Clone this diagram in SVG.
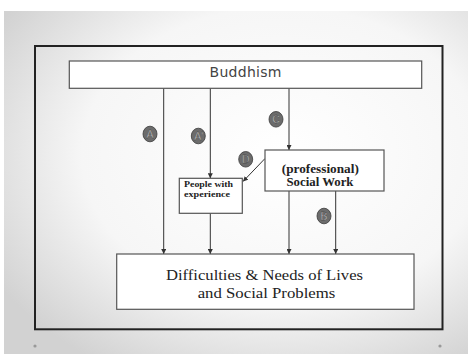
<svg xmlns="http://www.w3.org/2000/svg" width="468" height="354" viewBox="0 0 468 354">
<defs>
<radialGradient id="bg" cx="60%" cy="42%" r="72%">
<stop offset="0" stop-color="#ffffff"/>
<stop offset="0.6" stop-color="#f6f6f6"/>
<stop offset="1" stop-color="#d2d2d2"/>
</radialGradient>
<marker id="arr" viewBox="0 0 6 6" refX="6" refY="3" markerWidth="5" markerHeight="5" orient="auto" markerUnits="userSpaceOnUse">
<path d="M0,0 L6,3 L0,6 z" fill="#333"/>
</marker>
<style>
.box{fill:#fff;stroke:#555;stroke-width:1.2}
.ln{stroke:#333;stroke-width:1;fill:none;marker-end:url(#arr)}
.lbl ellipse{fill:#6c6c6c;stroke:#3a3a3a;stroke-width:0.8}
.lbl text{font-family:"Liberation Sans",Arial,sans-serif;font-size:10.5px;fill:#d8d8d8;stroke:#2a2a2a;stroke-width:0.3;text-anchor:middle}
.serif{font-family:"Liberation Serif","Times New Roman",serif;fill:#222}
</style>
</defs>
<rect width="468" height="354" fill="#ffffff"/>
<rect x="4" y="11" width="464" height="343" fill="url(#bg)"/>
<rect x="35" y="46" width="407.5" height="283.3" fill="none" stroke="#222" stroke-width="2"/>
<circle cx="35" cy="346" r="1.6" fill="#999"/>
<circle cx="440" cy="346" r="1.6" fill="#999"/>

<g id="connectors">
<line class="ln" x1="163.7" y1="88.3" x2="163.7" y2="254"/>
<line class="ln" x1="210.3" y1="88.3" x2="210.3" y2="178.3"/>
<line class="ln" x1="210.3" y1="213.3" x2="210.3" y2="254"/>
<line class="ln" x1="289" y1="88.3" x2="289" y2="150"/>
<line class="ln" x1="265" y1="158.5" x2="243" y2="181.5"/>
<line class="ln" x1="289" y1="191" x2="289" y2="254"/>
<line class="ln" x1="335.7" y1="191" x2="335.7" y2="254"/>
</g>

<g id="buddhism">
<rect class="box" x="69.3" y="61" width="352.4" height="27.3"/>
<text x="245.5" y="76.5" font-family="'DejaVu Sans',sans-serif" font-size="14" fill="#444" text-anchor="middle" textLength="72">Buddhism</text>
</g>

<g id="social-work">
<rect class="box" x="265" y="150" width="119" height="41"/>
<text class="serif" x="320.3" y="172.5" font-size="11.5" font-weight="bold" text-anchor="middle" textLength="77" lengthAdjust="spacingAndGlyphs">(professional)</text>
<text class="serif" x="320" y="186" font-size="11.5" font-weight="bold" text-anchor="middle" textLength="67" lengthAdjust="spacingAndGlyphs">Social Work</text>
</g>

<g id="people">
<rect class="box" x="179.3" y="178.3" width="63" height="35"/>
<text class="serif" x="184" y="187" font-size="8.5" font-weight="bold" textLength="49" lengthAdjust="spacingAndGlyphs">People with</text>
<text class="serif" x="184" y="197" font-size="8.5" font-weight="bold" textLength="46" lengthAdjust="spacingAndGlyphs">experience</text>
</g>

<g id="problems">
<rect class="box" x="116.7" y="254" width="297.3" height="55.3"/>
<text class="serif" x="264.5" y="280" font-size="14.5" text-anchor="middle" textLength="197" lengthAdjust="spacingAndGlyphs">Difficulties  &amp; Needs of Lives</text>
<text class="serif" x="266.5" y="298.3" font-size="14.5" text-anchor="middle" textLength="137.6" lengthAdjust="spacingAndGlyphs">and Social Problems</text>
</g>

<g id="label-A" class="lbl"><ellipse cx="150" cy="134" rx="7" ry="7.8"/><text x="150" y="137.8">A</text></g>
<g id="label-A2" class="lbl"><ellipse cx="198.3" cy="136" rx="7" ry="7.8"/><text x="198.8" y="139.8">A'</text></g>
<g id="label-C" class="lbl"><ellipse cx="276" cy="119.3" rx="7" ry="7.8"/><text x="276" y="123.1">C</text></g>
<g id="label-D" class="lbl"><ellipse cx="245.7" cy="159.3" rx="7" ry="7.8"/><text x="245.7" y="163.1">D</text></g>
<g id="label-B" class="lbl"><ellipse cx="324" cy="216" rx="7" ry="7.8"/><text x="324" y="219.8">B</text></g>
</svg>
